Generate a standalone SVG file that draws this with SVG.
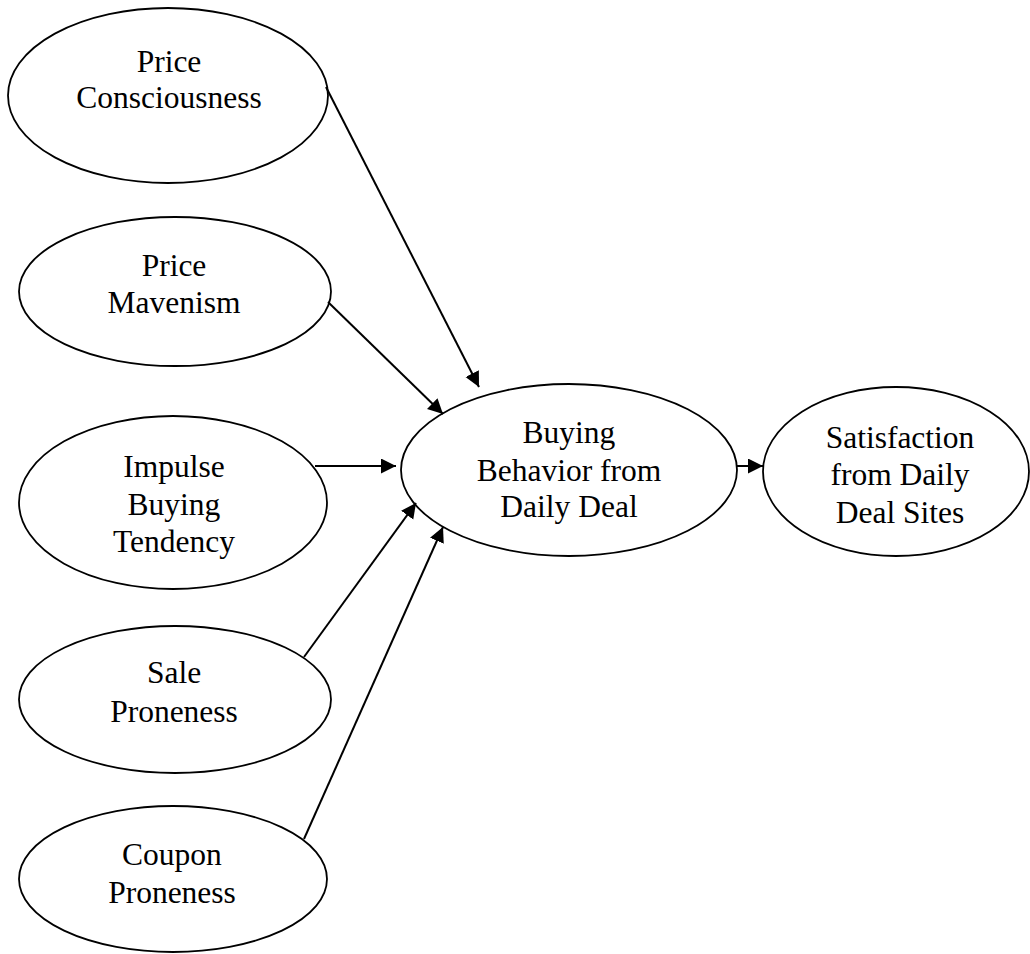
<svg xmlns="http://www.w3.org/2000/svg" width="1030" height="954" viewBox="0 0 1030 954">
<style>
  .node ellipse { fill: #ffffff; stroke: #000000; stroke-width: 1.8; }
  .node text { font-family: "Liberation Serif", "Times New Roman", serif; font-size: 31.5px; fill: #000000; text-anchor: middle; }
  .edge { stroke: #000000; stroke-width: 2; fill: none; marker-end: url(#arrow); }
</style>
<defs>
  <marker id="arrow" markerUnits="userSpaceOnUse" markerWidth="16" markerHeight="16" refX="15" refY="7.5" orient="auto">
    <path d="M0,0 L15,7.5 L0,15 z" fill="#000000"/>
  </marker>
</defs>
<rect width="1030" height="954" fill="#ffffff"/>
<g id="n-price-consciousness" class="node">
  <ellipse cx="168" cy="95.5" rx="160" ry="87.5"/>
  <text x="169" y="72">Price</text>
  <text x="169" y="108">Consciousness</text>
</g>
<g id="n-price-mavenism" class="node">
  <ellipse cx="175" cy="291.5" rx="156" ry="74.5"/>
  <text x="174" y="276">Price</text>
  <text x="174" y="313">Mavenism</text>
</g>
<g id="n-impulse" class="node">
  <ellipse cx="173" cy="502.5" rx="154" ry="86.5"/>
  <text x="174" y="477">Impulse</text>
  <text x="174" y="515">Buying</text>
  <text x="174" y="552">Tendency</text>
</g>
<g id="n-sale" class="node">
  <ellipse cx="175" cy="699.5" rx="156" ry="73.5"/>
  <text x="174" y="683">Sale</text>
  <text x="174" y="722">Proneness</text>
</g>
<g id="n-coupon" class="node">
  <ellipse cx="173" cy="879" rx="154" ry="73"/>
  <text x="172" y="865">Coupon</text>
  <text x="172" y="903">Proneness</text>
</g>
<g id="n-buying" class="node">
  <ellipse cx="569" cy="470" rx="168" ry="86"/>
  <text x="569" y="443">Buying</text>
  <text x="569" y="481">Behavior from</text>
  <text x="569" y="517">Daily Deal</text>
</g>
<g id="n-satisfaction" class="node">
  <ellipse cx="896" cy="471.5" rx="133" ry="84.5"/>
  <text x="900" y="448">Satisfaction</text>
  <text x="900" y="485">from Daily</text>
  <text x="900" y="523">Deal Sites</text>
</g>
<g id="connectors">
  <line class="edge" x1="326" y1="87" x2="479" y2="387"/>
  <line class="edge" x1="328" y1="302" x2="443" y2="414"/>
  <line class="edge" x1="315" y1="466" x2="396" y2="466"/>
  <line class="edge" x1="304" y1="657" x2="416" y2="503"/>
  <line class="edge" x1="304" y1="839" x2="443" y2="527"/>
  <line class="edge" x1="737" y1="466" x2="763" y2="466"/>
</g>
</svg>
